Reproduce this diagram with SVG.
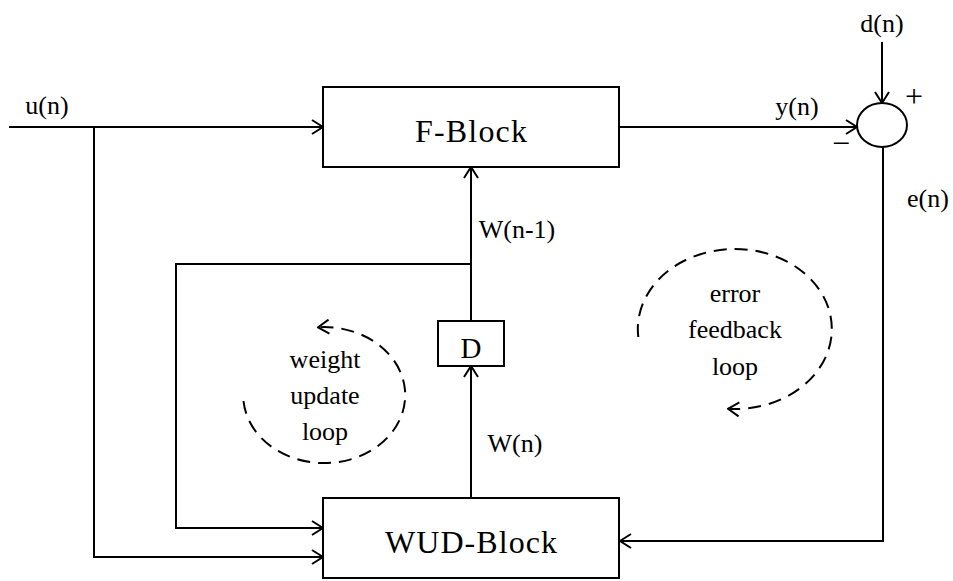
<svg xmlns="http://www.w3.org/2000/svg" width="953" height="581" viewBox="0 0 953 581">
<style>
.box{fill:#fff;stroke:#000;stroke-width:2}
.ln{fill:none;stroke:#000;stroke-width:2}
.dash{fill:none;stroke:#000;stroke-width:2;stroke-dasharray:13 8}
.t{font-family:"Liberation Serif","Times New Roman",serif;fill:#000;text-anchor:middle}
.lbl{font-size:26px}
.big{font-size:32px}
.sign{font-size:32px}
</style>
<defs>
<marker id="arr" markerUnits="userSpaceOnUse" markerWidth="14" markerHeight="16" viewBox="0 0 14 16" refX="13" refY="8" orient="auto">
<path d="M2,1 L13,8 L2,15" fill="none" stroke="#000" stroke-width="2"/>
</marker>
</defs>
<rect width="953" height="581" fill="#fff"/>
<g id="connectors">
<path class="ln" d="M9 127 H323" marker-end="url(#arr)"/>
<path class="ln" d="M94 127 V557 H323" marker-end="url(#arr)"/>
<path class="ln" d="M619 127 H857" marker-end="url(#arr)"/>
<path class="ln" d="M882 42 V103" marker-end="url(#arr)"/>
<path class="ln" d="M883 147 V541 H620" marker-end="url(#arr)"/>
<path class="ln" d="M471 498 V366" marker-end="url(#arr)"/>
<path class="ln" d="M471 321 V167" marker-end="url(#arr)"/>
<path class="ln" d="M471 264 H176 V528 H323" marker-end="url(#arr)"/>
</g>
<g id="f-block">
<rect class="box" x="323" y="87" width="296" height="80"/>
<text class="t big" x="471" y="142" textLength="112" lengthAdjust="spacing">F-Block</text>
</g>
<g id="wud-block">
<rect class="box" x="323" y="498" width="296" height="80"/>
<text class="t big" x="471" y="553" textLength="172" lengthAdjust="spacing">WUD-Block</text>
</g>
<g id="delay">
<rect class="box" x="438" y="321" width="66" height="45"/>
<text class="t" x="471" y="358" style="font-size:29px">D</text>
</g>
<g id="sum">
<ellipse class="box" cx="882" cy="125" rx="25" ry="22"/>
<text class="t sign" x="914" y="107">+</text>
<text class="t sign" x="841" y="154">−</text>
</g>
<g id="labels">
<text class="t lbl" x="47" y="114">u(n)</text>
<text class="t lbl" x="882" y="32">d(n)</text>
<text class="t lbl" x="797" y="115">y(n)</text>
<text class="t lbl" x="928" y="207">e(n)</text>
<text class="t lbl" x="517" y="238">W(n-1)</text>
<text class="t lbl" x="515" y="452">W(n)</text>
</g>
<g id="weight-loop">
<path class="dash" d="M243.5 401 A81 68 0 1 0 318 327.3" marker-end="url(#arr)"/>
<text class="t lbl" x="325" y="368">weight</text>
<text class="t lbl" x="325" y="404">update</text>
<text class="t lbl" x="325" y="440">loop</text>
</g>
<g id="error-loop">
<path class="dash" d="M638.3 337 A97 80 0 1 1 728 408.8" marker-end="url(#arr)"/>
<text class="t lbl" x="735" y="302">error</text>
<text class="t lbl" x="735" y="338">feedback</text>
<text class="t lbl" x="735" y="375">loop</text>
</g>
</svg>
